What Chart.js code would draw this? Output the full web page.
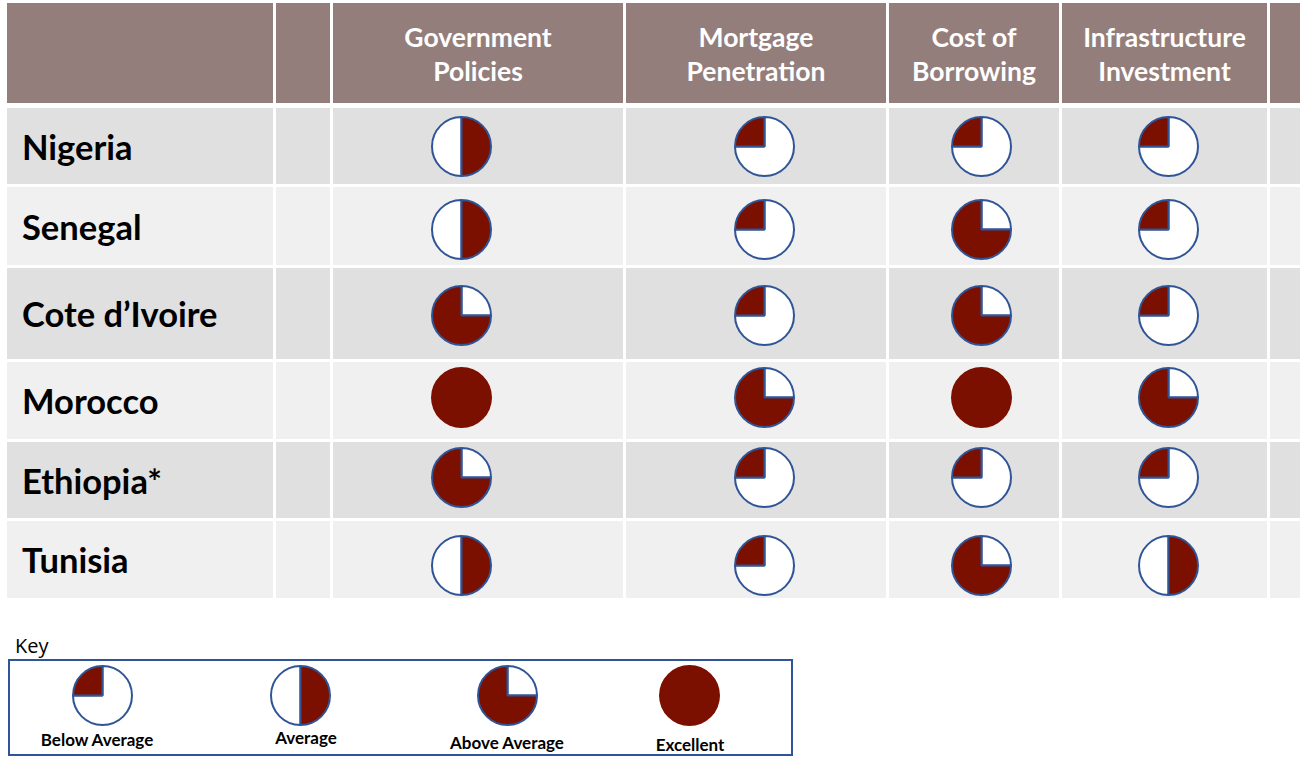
<!DOCTYPE html>
<html>
<head>
<meta charset="utf-8">
<script src="https://cdn.jsdelivr.net/npm/chart.js@4.4.1/dist/chart.umd.min.js"></script>
<style>
    html, body {
        margin: 0;
        padding: 0;
        background: #ffffff;
        width: 1308px;
        height: 768px;
        overflow: hidden;
        font-family: "Lato", "Open Sans", sans-serif;
    }

    .grid {
        position: absolute;
        left: 7px;
        top: 3px;
        display: grid;
        grid-template-columns: 266px 54px 290px 260px 170px 205px 30px;
        grid-template-rows: 102px 76px 78px 91px 77px 76px 77px;
        column-gap: 3px;
        row-gap: 3px;
    }

    .grid > div {
        display: flex;
        align-items: center;
        justify-content: center;
    }

    .head {
        background: #947e7b;
        color: #ffffff;
        font-weight: 700;
        font-size: 26.5px;
        line-height: 34px;
        text-align: center;
        margin-bottom: 2px;
        padding-top: 2px;
        box-sizing: border-box;
    }

    .dark { background: #e0e0e0; }
    .light { background: #f0f0f0; }

    .grid > div.country {
        justify-content: flex-start;
        padding-left: 15px;
        font-weight: 700;
        font-size: 34.5px;
        color: #000000;
    }

    .ball {
        width: 61px;
        height: 61px;
    }

    .key-title {
        position: absolute;
        left: 15px;
        top: 632px;
        font-family: "Open Sans", sans-serif;
        font-size: 20px;
        color: #000000;
    }

    .key-box {
        position: absolute;
        left: 8px;
        top: 659px;
        width: 781px;
        height: 93px;
        border: 2px solid #2f5597;
    }

    .key-item {
        position: absolute;
        top: 4px;
        width: 160px;
        display: flex;
        flex-direction: column;
        align-items: center;
        font-weight: 700;
        font-size: 17px;
        color: #000000;
    }

    .key-item span {
        margin-top: 3px;
        white-space: nowrap;
    }
</style>
</head>
<body>
<div class="grid" id="grid"></div>

<div class="key-title">Key</div>
<div class="key-box" id="key"></div>

<script>
    // ratings: 1 = below average, 2 = average, 3 = above average, 4 = excellent
    const countries = ["Nigeria", "Senegal", "Cote d\u2019Ivoire", "Morocco", "Ethiopia*", "Tunisia"];
    const factorLabels = [
        ["Government", "Policies"],
        ["Mortgage", "Penetration"],
        ["Cost of", "Borrowing"],
        ["Infrastructure", "Investment"]
    ];

    const governmentPolicies = [2, 2, 3, 4, 3, 2];
    const mortgagePenetration = [1, 1, 1, 3, 1, 1];
    const costOfBorrowing = [1, 3, 3, 4, 1, 3];
    const infrastructureInvestment = [1, 1, 1, 3, 1, 2];

    const keyLevels = [1, 2, 3, 4];
    const keyLabels = ["Below Average", "Average", "Above Average", "Excellent"];

    const series = [governmentPolicies, mortgagePenetration, costOfBorrowing, infrastructureInvestment];

    const COLORS = {
        fill: "#7b0f00",
        empty: "#ffffff",
        border: "#2f5597"
    };

    // small nudges of the balls inside their cells (layout only)
    const columnShift = [-17, 8, 7, 4];
    const rowShift = [0, 3, 2, -3, -3, 6];
    const keyItemLeft = [12, 210, 417, 599];
    const keyLabelShift = [[-5, 0], [6, -2], [0, 3], [1, 5]];

    let ballCount = 0;

    const makeBall = (parent, level, shiftX, shiftY) => {
        const wrap = document.createElement("div");
        wrap.className = "ball";
        if (shiftX || shiftY) {
            wrap.style.transform = `translate(${shiftX}px, ${shiftY}px)`;
        }
        const canvas = document.createElement("canvas");
        canvas.id = `ball_${ballCount++}`;
        canvas.width = 61;
        canvas.height = 61;
        wrap.appendChild(canvas);
        parent.appendChild(wrap);

        new Chart(canvas, {
            type: "pie",
            data: {
                labels: ["rest", "rating"],
                datasets: [{
                    data: [4 - level, level],
                    backgroundColor: [COLORS.empty, COLORS.fill],
                    borderColor: COLORS.border,
                    borderWidth: level === 4 ? 0 : 2,
                    hoverOffset: 0
                }]
            },
            options: {
                responsive: false,
                animation: false,
                rotation: level === 2 ? 180 : 0,
                layout: { padding: 0 },
                events: [],
                plugins: {
                    legend: { display: false },
                    tooltip: { enabled: false }
                }
            }
        });
        return wrap;
    };

    const cell = (cls, html) => {
        const ele = document.createElement("div");
        ele.className = cls;
        if (html) {
            ele.innerHTML = html;
        }
        document.getElementById("grid").appendChild(ele);
        return ele;
    };

    (() => {
        // header row
        cell("head");
        cell("head");
        for (let i = 0; i < factorLabels.length; i++) {
            cell("head", factorLabels[i].join("<br>"));
        }
        cell("head");

        // body rows
        for (let r = 0; r < countries.length; r++) {
            const shade = r % 2 === 0 ? "dark" : "light";
            cell(`${shade} country`, countries[r]);
            cell(shade);
            for (let c = 0; c < series.length; c++) {
                const ele = cell(shade);
                makeBall(ele, series[c][r], columnShift[c], rowShift[r]);
            }
            cell(shade);
        }

        // key
        const keyEle = document.getElementById("key");
        for (let i = 0; i < keyLevels.length; i++) {
            const item = document.createElement("div");
            item.className = "key-item";
            item.style.left = `${keyItemLeft[i]}px`;
            keyEle.appendChild(item);
            makeBall(item, keyLevels[i], 0, 0);
            const label = document.createElement("span");
            label.textContent = keyLabels[i];
            label.style.transform = `translate(${keyLabelShift[i][0]}px, ${keyLabelShift[i][1]}px)`;
            item.appendChild(label);
        }
    })();
</script>
</body>
</html>
